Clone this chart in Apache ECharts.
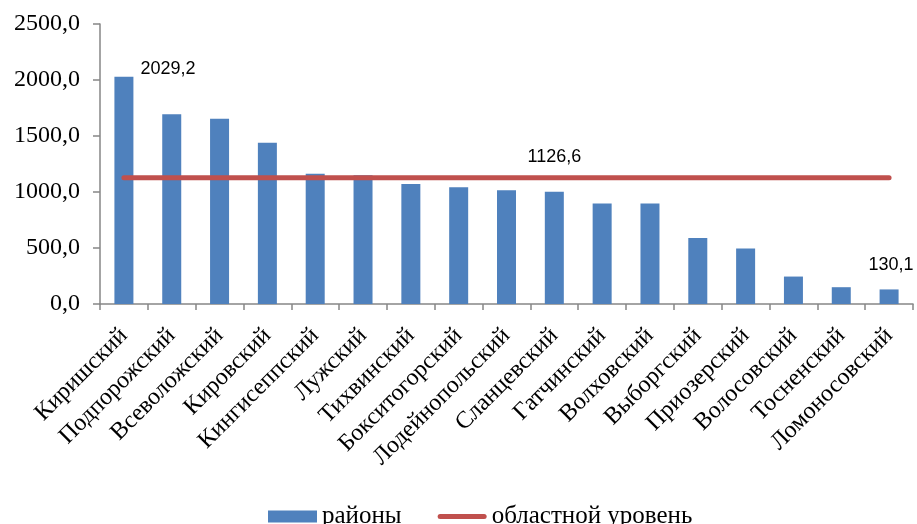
<!DOCTYPE html>
<html>
<head>
<meta charset="utf-8">
<script src="https://cdn.jsdelivr.net/npm/echarts@6/dist/echarts.min.js"></script>
<style>
  html, body { margin: 0; padding: 0; background: #fff; }
  #chart { width: 917px; height: 524px; }
</style>
</head>
<body>
<div id="chart"></div>
<script>
// Районы Ленинградской области
const districts = [
  'Киришский', 'Подпорожский', 'Всеволожский', 'Кировский', 'Кингисеппский',
  'Лужский', 'Тихвинский', 'Бокситогорский', 'Лодейнопольский', 'Сланцевский',
  'Гатчинский', 'Волховский', 'Выборгский', 'Приозерский', 'Волосовский',
  'Тосненский', 'Ломоносовский'
];
const districtValues = [
  2029.2, 1694, 1655, 1440, 1162,
  1150, 1071, 1042, 1015, 1002,
  898, 898, 590, 496, 245,
  150, 130.1
];
const regionalLevel = 1126.6;
const regionalValues = districts.map(() => regionalLevel);

// Категория, над которой подписан областной уровень
const lineLabelIdx = 9;

const seriesNames = ['районы', 'областной уровень'];

const fmt = v => v.toFixed(1).replace('.', ',');

const labelFont = { fontFamily: 'Liberation Sans', fontSize: 18, color: '#000' };

// Значок легенды для линии: полоса со скруглёнными концами в рамке 49×12
const lineIcon = 'path://M0,0 M49,12 M2.5,3.5 L46.5,3.5 A2.5,2.5 0 0 1 46.5,8.5 L2.5,8.5 A2.5,2.5 0 0 1 2.5,3.5 Z';

const chart = echarts.init(document.getElementById('chart'), null, { renderer: 'canvas' });

const barData = districtValues.map((v, i) => {
  if (i === 0) {
    return { value: v, label: { show: true, position: 'top', offset: [44, 6] } };
  }
  if (i === districtValues.length - 1) {
    return { value: v, label: { show: true, position: 'top', offset: [2, -10] } };
  }
  return v;
});

chart.setOption({
  animation: false,
  backgroundColor: '#fff',
  grid: { left: 100, right: 4, top: 24, bottom: 220, containLabel: false },
  legend: {
    left: 268,
    top: 504,
    padding: 0,
    itemWidth: 49,
    itemHeight: 12,
    itemGap: 36,
    textStyle: { fontFamily: 'Liberation Serif', fontSize: 25, color: '#000', padding: [4, 0, 0, 0] },
    data: [
      { name: seriesNames[0], icon: 'rect' },
      { name: seriesNames[1], icon: lineIcon, itemStyle: { color: '#c0504d' } }
    ]
  },
  xAxis: {
    type: 'category',
    data: districts,
    axisLine: { lineStyle: { color: '#868686', width: 1.5 } },
    axisTick: { show: true, length: 6, lineStyle: { color: '#868686', width: 1.5 } },
    axisLabel: {
      rotate: 45,
      interval: 0,
      margin: 28,
      fontFamily: 'Liberation Serif',
      fontSize: 24,
      color: '#000'
    }
  },
  yAxis: {
    type: 'value',
    min: 0,
    max: 2500,
    interval: 500,
    axisLine: { show: true, lineStyle: { color: '#868686', width: 1.5 } },
    axisTick: { show: true, length: 7, lineStyle: { color: '#868686', width: 1.5 } },
    splitLine: { show: false },
    axisLabel: {
      margin: 20,
      fontFamily: 'Liberation Serif',
      fontSize: 24,
      color: '#000',
      formatter: v => fmt(v)
    }
  },
  series: [
    {
      name: seriesNames[0],
      type: 'bar',
      data: barData,
      barWidth: 19,
      itemStyle: { color: '#4f81bd' },
      label: Object.assign({ show: false, formatter: p => fmt(p.value) }, labelFont),
      z: 2
    },
    {
      name: seriesNames[1],
      type: 'line',
      data: regionalValues,
      symbol: 'none',
      itemStyle: { color: '#c0504d' },
      lineStyle: { color: '#c0504d', width: 5, cap: 'round' },
      markPoint: {
        symbol: 'circle',
        symbolSize: 0,
        data: [{ coord: [lineLabelIdx, regionalLevel], value: regionalLevel }],
        label: Object.assign({
          show: true,
          position: 'top',
          distance: 0,
          offset: [0, -12],
          formatter: p => fmt(p.value)
        }, labelFont)
      },
      z: 3
    }
  ]
});
</script>
</body>
</html>
